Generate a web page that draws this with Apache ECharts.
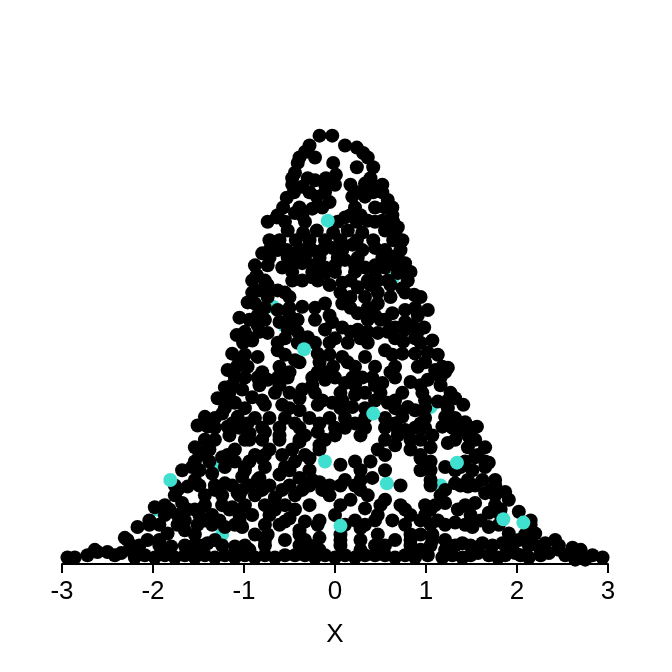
<!DOCTYPE html>
<html>
<head>
<meta charset="utf-8">
<script src="https://cdn.jsdelivr.net/npm/echarts@6/dist/echarts.min.js"></script>
<style>
  html, body { margin: 0; padding: 0; background: #fff; }
  #chart { width: 672px; height: 672px; }
</style>
</head>
<body>
<div id="chart"></div>
<script>
const xTicks = [-3, -2, -1, 0, 1, 2, 3]

// black points [x, y]
const blackPoints = [
  // top of the bell
  [-0.17, 0.393], [-0.03, 0.393], [-0.28, 0.384], [0.11, 0.384], [0.24, 0.382],
  [-0.33, 0.378], [0.31, 0.377], [-0.41, 0.368], [-0.02, 0.368], [0.24, 0.364],
  [0.42, 0.364], [-0.44, 0.359], [-0.36, 0.346], [-0.22, 0.352], [0.33, 0.349],
  [0.46, 0.346], [0.52, 0.341], [0.00, 0.348], [-0.53, 0.336], [-0.20, 0.337],
  [-0.06, 0.332], [0.19, 0.337], [0.33, 0.337], [0.58, 0.334], [0.63, 0.327],
  [-0.64, 0.318], [-0.44, 0.322], [-0.25, 0.326], [0.11, 0.318], [0.36, 0.315],
  [0.52, 0.315], [0.69, 0.309], [-0.72, 0.297], [-0.52, 0.306], [-0.35, 0.304],
  [-0.20, 0.306], [0.14, 0.306], [0.30, 0.304], [0.55, 0.306], [0.74, 0.297],
  [-0.80, 0.285], [-0.63, 0.288], [-0.44, 0.285], [-0.25, 0.288], [-0.03, 0.290],
  [0.19, 0.293], [0.44, 0.290], [0.63, 0.282], [0.77, 0.276], [-0.88, 0.274],
  [-0.58, 0.272], [-0.36, 0.276], [-0.11, 0.272], [0.11, 0.279], [0.33, 0.272],
  [0.55, 0.272],
  // middle
  [-0.86, 0.265], [-0.83, 0.251], [-0.91, 0.260], [-0.63, 0.251], [-0.47, 0.260],
  [-0.25, 0.263], [-0.11, 0.267], [0.08, 0.258], [0.25, 0.254], [0.47, 0.260],
  [0.69, 0.267], [0.74, 0.253], [0.87, 0.247], [-0.96, 0.240], [-0.88, 0.239],
  [-0.63, 0.233], [-0.36, 0.236], [-0.11, 0.239], [0.08, 0.239], [0.25, 0.230],
  [0.47, 0.239], [0.63, 0.230], [0.77, 0.233], [1.02, 0.233], [0.91, 0.228],
  [-1.05, 0.226], [-1.08, 0.210], [-0.91, 0.205], [-0.74, 0.212], [-0.52, 0.215],
  [-0.30, 0.208], [-0.11, 0.215], [0.08, 0.217], [0.25, 0.215], [0.47, 0.212],
  [0.66, 0.217], [0.85, 0.219], [0.98, 0.217], [1.07, 0.205], [0.75, 0.204],
  [-1.13, 0.193], [-0.85, 0.190], [-0.63, 0.196], [-0.44, 0.187], [-0.19, 0.193],
  [0.08, 0.190], [0.33, 0.190], [0.55, 0.196], [0.74, 0.193], [0.88, 0.193],
  [1.02, 0.194], [1.13, 0.192], [-0.96, 0.181], [-1.18, 0.178], [-0.99, 0.171],
  [-0.74, 0.169], [-0.52, 0.171], [-0.36, 0.160], [-0.11, 0.169], [0.11, 0.166],
  [0.30, 0.171], [0.52, 0.166], [0.66, 0.171], [0.83, 0.167], [1.02, 0.169],
  [1.24, 0.180], [1.10, 0.178], [-1.21, 0.162], [-1.02, 0.160], [-1.29, 0.152],
  [-1.10, 0.148], [-0.91, 0.153], [-0.77, 0.146], [-0.58, 0.146], [-0.39, 0.141],
  [-0.19, 0.146], [-0.03, 0.148], [0.19, 0.144], [0.58, 0.148], [0.80, 0.144],
  [0.74, 0.157], [1.13, 0.149], [1.32, 0.152], [1.41, 0.146], [0.88, 0.141],
  [0.74, 0.135], [1.21, 0.135], [1.43, 0.130], [1.56, 0.126], [-1.43, 0.135],
  [-1.51, 0.127], [-1.24, 0.138], [-1.07, 0.135], [-0.88, 0.134],
  // lower left
  [-1.40, 0.126], [-1.18, 0.126], [-1.54, 0.107], [-1.46, 0.102], [-1.24, 0.098],
  [-1.10, 0.105], [-1.68, 0.086], [-1.35, 0.083], [-1.21, 0.074], [-1.02, 0.080],
  [-1.62, 0.071], [-1.68, 0.056], [-1.54, 0.050], [-1.35, 0.045], [-1.13, 0.052],
  [-1.07, 0.065], [-1.21, 0.034], [-1.02, 0.034], [-1.84, 0.028], [-1.65, 0.031],
  [-1.98, 0.052], [-2.06, 0.022], [-2.24, 0.017], [-1.80, 0.016], [-1.57, 0.016],
  [-1.40, 0.019], [-1.10, 0.016], [-2.17, 0.034], [-2.31, 0.024], [-2.35, 0.010],
  [-2.20, 0.006], [-1.98, 0.006], [-1.76, 0.006], [-1.54, 0.006], [-1.32, 0.006],
  [-1.10, 0.006], [-2.61, 0.011], [-2.50, 0.011], [-2.86, 0.006], [-2.94, 0.006],
  // lower centre and right
  [-0.94, 0.120], [-0.39, 0.125], [-0.19, 0.121], [0.11, 0.125], [0.55, 0.125],
  [0.77, 0.123], [0.99, 0.125], [1.18, 0.126], [1.40, 0.123],
  [-0.88, 0.100], [-0.47, 0.105], [-0.28, 0.097], [0.06, 0.091], [0.47, 0.105],
  [0.66, 0.109], [1.05, 0.107], [1.24, 0.111], [1.46, 0.107], [1.65, 0.107],
  [1.54, 0.098],
  [-0.83, 0.079], [-0.61, 0.082], [-0.39, 0.079], [-0.17, 0.075], [0.06, 0.072],
  [0.41, 0.079], [0.55, 0.086], [0.94, 0.086], [1.21, 0.089], [1.51, 0.086],
  [1.69, 0.093], [1.62, 0.077],
  [-0.88, 0.063], [-0.66, 0.061], [-0.44, 0.063], [-0.28, 0.054], [0.17, 0.059],
  [0.36, 0.063], [0.55, 0.059], [0.99, 0.054], [1.32, 0.074], [1.46, 0.071],
  [1.65, 0.065], [1.87, 0.066],
  [-0.91, 0.045], [-0.50, 0.042], [-0.33, 0.039], [0.22, 0.040], [0.33, 0.051],
  [0.63, 0.040], [0.83, 0.045], [1.13, 0.040], [1.35, 0.050], [1.54, 0.056],
  [1.69, 0.047], [1.21, 0.056], [1.91, 0.059], [2.02, 0.048],
  [-0.88, 0.027], [-0.55, 0.022], [-0.17, 0.024], [0.28, 0.022], [0.47, 0.027],
  [0.66, 0.022], [0.94, 0.027], [1.32, 0.038], [1.51, 0.034], [1.69, 0.034],
  [1.91, 0.028], [1.21, 0.022], [1.40, 0.019], [1.62, 0.019], [1.84, 0.019],
  [2.02, 0.022], [2.20, 0.028], [2.31, 0.019],
  [-0.88, 0.006], [-0.66, 0.006], [-0.44, 0.008], [-0.22, 0.006], [0.00, 0.006],
  [0.22, 0.006], [0.44, 0.008], [0.66, 0.006], [0.88, 0.006], [1.18, 0.006],
  [1.40, 0.006], [1.57, 0.010], [1.79, 0.006], [1.98, 0.010], [2.13, 0.006],
  [2.24, 0.016], [2.35, 0.010], [2.46, 0.013], [2.61, 0.015], [2.64, 0.004],
  [2.75, 0.004], [2.94, 0.006]
]

// more black points, read row by row between the ones above
const blackPointsB = [
  [-0.39, 0.373], [-0.22, 0.373], [0.36, 0.373], [0.01, 0.357],
  [-0.47, 0.354], [-0.30, 0.354], [-0.10, 0.354], [0.39, 0.354],
  [-0.45, 0.341], [-0.28, 0.341], [-0.11, 0.341], [0.25, 0.341], [0.42, 0.341],
  [-0.57, 0.327], [-0.39, 0.327], [-0.14, 0.327], [0.22, 0.327], [0.44, 0.327], [0.55, 0.327],
  [-0.74, 0.314], [-0.55, 0.314], [-0.33, 0.314], [0.03, 0.314], [0.24, 0.314], [0.44, 0.314], [0.64, 0.314],
  [-0.61, 0.297], [-0.43, 0.297], [-0.28, 0.297], [-0.11, 0.297], [0.06, 0.297], [0.24, 0.297],
  [0.42, 0.297], [0.64, 0.297],
  [-0.72, 0.281], [-0.52, 0.281], [-0.33, 0.281], [-0.17, 0.281], [0.03, 0.281], [0.25, 0.281],
  [0.52, 0.281], [0.69, 0.281],
  [-0.47, 0.268], [-0.25, 0.268], [0.00, 0.268], [0.22, 0.268], [0.44, 0.268], [0.83, 0.268],
  [-0.74, 0.256], [-0.06, 0.256], [0.39, 0.256], [0.61, 0.256],
  [-0.74, 0.245], [-0.50, 0.245], [0.17, 0.245], [0.33, 0.245], [0.61, 0.245], [0.94, 0.245],
  [-0.94, 0.224], [-0.77, 0.224], [-0.41, 0.224], [-0.22, 0.224], [0.36, 0.224], [0.55, 0.224],
  [-1.01, 0.203], [-0.63, 0.203], [-0.41, 0.203], [-0.22, 0.203], [-0.06, 0.203], [0.14, 0.203],
  [0.36, 0.203], [0.94, 0.203],
  [-1.08, 0.181], [-0.61, 0.181], [-0.02, 0.181], [0.22, 0.181], [0.44, 0.181], [0.66, 0.181],
  [0.91, 0.181], [1.18, 0.181],
  [-1.16, 0.157], [-0.66, 0.157], [-0.50, 0.157], [-0.22, 0.157], [0.06, 0.157], [0.33, 0.157],
  [0.50, 0.157], [0.96, 0.157], [1.27, 0.157],
  [-1.32, 0.134], [-0.72, 0.134], [-0.55, 0.134], [-0.28, 0.134], [-0.06, 0.134], [0.11, 0.134],
  [0.33, 0.134], [0.55, 0.134], [0.99, 0.134], [1.32, 0.134],
  [-1.43, 0.114], [-1.32, 0.114], [-0.99, 0.114], [-0.80, 0.114], [-0.61, 0.114], [-0.39, 0.114],
  [-0.11, 0.114], [0.55, 0.114], [0.83, 0.114], [0.94, 0.114], [1.32, 0.114], [1.54, 0.114],
  [-1.54, 0.094], [-1.38, 0.094], [-1.10, 0.094], [-0.94, 0.094], [-0.44, 0.094], [0.22, 0.094],
  [0.39, 0.094], [1.05, 0.094], [1.43, 0.094], [1.65, 0.094],
  [-1.76, 0.072], [-1.49, 0.072], [-1.32, 0.072], [-1.13, 0.072], [-0.94, 0.072], [-0.72, 0.072],
  [-0.50, 0.072], [-0.28, 0.072], [-0.06, 0.072], [0.22, 0.072], [0.72, 0.072], [1.05, 0.072],
  [1.38, 0.072], [1.54, 0.072], [1.76, 0.072],
  [-1.87, 0.054], [-1.43, 0.054], [-1.24, 0.054], [-0.99, 0.054], [-0.77, 0.054], [-0.55, 0.054],
  [0.06, 0.054], [0.50, 0.054], [0.72, 0.054], [1.10, 0.054], [1.43, 0.054], [1.76, 0.054],
  [-2.04, 0.036], [-1.93, 0.036], [-1.73, 0.036], [-1.51, 0.036], [-1.35, 0.036], [-1.10, 0.036],
  [-0.77, 0.036], [-0.61, 0.036], [-0.19, 0.036], [0.11, 0.036], [0.33, 0.036], [0.77, 0.036],
  [1.05, 0.036], [1.21, 0.036], [1.43, 0.036], [1.80, 0.036], [2.15, 0.036],
  [-2.15, 0.017], [-1.93, 0.017], [-1.65, 0.017], [-1.49, 0.017], [-1.24, 0.017], [-0.99, 0.017],
  [-0.77, 0.017], [-0.39, 0.017], [-0.28, 0.017], [0.06, 0.017], [0.44, 0.017], [0.55, 0.017],
  [0.83, 0.017], [1.05, 0.017], [1.32, 0.017], [1.49, 0.017], [1.73, 0.017], [1.95, 0.017],
  [2.13, 0.017], [2.46, 0.017],
  [-2.72, 0.008], [-2.42, 0.008], [-2.09, 0.008], [-1.87, 0.008], [-1.65, 0.008], [-1.43, 0.008],
  [-1.21, 0.008], [-0.99, 0.008], [-0.77, 0.008], [-0.55, 0.008], [-0.33, 0.008], [-0.11, 0.008],
  [0.11, 0.008], [0.33, 0.008], [0.55, 0.008], [0.77, 0.008], [1.02, 0.008], [1.29, 0.008],
  [1.49, 0.008], [1.69, 0.008], [1.87, 0.008], [2.04, 0.008], [2.26, 0.008], [2.53, 0.008],
  [2.83, 0.008]
]

// third pass of black points in the remaining gaps
const blackPointsC = [
  [-0.47, 0.348], [-0.11, 0.348], [0.17, 0.348], [0.52, 0.348],
  [-0.63, 0.320], [-0.36, 0.320], [0.17, 0.320], [0.28, 0.320], [0.63, 0.320],
  [-0.02, 0.304], [0.66, 0.304],
  [-0.72, 0.288], [-0.53, 0.288], [-0.35, 0.288], [-0.14, 0.288], [0.08, 0.288], [0.30, 0.288],
  [0.55, 0.288], [0.72, 0.288],
  [-0.74, 0.274], [-0.47, 0.274], [-0.23, 0.274], [0.00, 0.274], [0.22, 0.274], [0.44, 0.274],
  [0.66, 0.274],
  [-0.77, 0.260], [-0.36, 0.260], [-0.19, 0.260], [0.17, 0.260], [0.36, 0.260], [0.58, 0.260],
  [0.80, 0.260],
  [-0.91, 0.249], [-0.55, 0.249], [0.06, 0.249], [0.47, 0.249], [0.77, 0.249],
  [-0.77, 0.235], [-0.50, 0.235], [-0.22, 0.235], [0.17, 0.235], [0.36, 0.235], [0.88, 0.235],
  [-0.61, 0.222], [-0.03, 0.222], [0.77, 0.222],
  [-0.99, 0.213], [-0.83, 0.213], [-0.41, 0.213], [0.17, 0.213], [0.36, 0.213], [0.58, 0.213],
  [0.91, 0.213],
  [-0.99, 0.192], [-0.55, 0.192], [-0.06, 0.192], [0.63, 0.192],
  [-1.10, 0.171], [-0.85, 0.171], [-0.63, 0.171], [-0.25, 0.171], [0.00, 0.171], [0.19, 0.171],
  [0.41, 0.171], [1.16, 0.171],
  [-1.21, 0.150], [-0.80, 0.150], [-0.14, 0.150], [0.08, 0.150], [0.44, 0.150], [0.66, 0.150],
  [0.99, 0.150], [1.24, 0.150],
  [-1.32, 0.125], [-1.05, 0.125], [-0.80, 0.125], [-0.61, 0.125], [0.00, 0.125], [0.33, 0.125],
  [0.88, 0.125], [1.29, 0.125], [1.49, 0.125],
  [-1.38, 0.105], [-0.72, 0.105], [-0.17, 0.105], [0.83, 0.105],
  [-1.49, 0.086], [-0.99, 0.086], [-0.50, 0.086], [-0.28, 0.086], [0.28, 0.086], [1.05, 0.086],
  [1.32, 0.086],
  [-1.76, 0.063], [-1.43, 0.063], [-1.24, 0.063], [-1.05, 0.063], [-0.06, 0.063], [1.16, 0.063],
  [1.76, 0.063],
  [-1.87, 0.045], [-1.73, 0.045], [-1.49, 0.045], [-1.05, 0.045], [-0.72, 0.045], [0.00, 0.045],
  [0.47, 0.045], [0.99, 0.045], [1.49, 0.045], [1.82, 0.045],
  [-1.54, 0.027], [-0.74, 0.027], [-0.39, 0.027], [0.06, 0.027], [1.07, 0.027], [2.09, 0.027],
  [-2.64, 0.013], [-2.26, 0.013], [-0.94, 0.013], [-0.17, 0.013], [0.28, 0.013], [0.94, 0.013],
  [1.21, 0.013], [2.26, 0.013], [2.70, 0.013]
]

// fourth pass, middle and lower body
const blackPointsD = [
  [-0.85, 0.228], [-0.50, 0.228], [-0.06, 0.228], [0.44, 0.228],
  [-0.94, 0.207], [-0.55, 0.207], [0.00, 0.207], [0.28, 0.207], [0.66, 0.207], [0.88, 0.207],
  [-1.05, 0.185], [-0.39, 0.185], [-0.17, 0.185], [0.14, 0.185], [0.99, 0.185],
  [-0.80, 0.176], [-0.50, 0.176], [-0.19, 0.176], [0.61, 0.176], [1.21, 0.176],
  [-1.13, 0.164], [-0.83, 0.164], [-0.61, 0.164], [-0.25, 0.164], [0.22, 0.164], [0.44, 0.164],
  [0.94, 0.164], [1.16, 0.164],
  [-1.21, 0.143], [-0.99, 0.143], [-0.50, 0.143], [0.06, 0.143], [0.33, 0.143], [0.66, 0.143],
  [0.99, 0.143], [1.24, 0.143],
  [-1.38, 0.129], [-1.13, 0.129], [-0.96, 0.129], [-0.44, 0.129], [-0.17, 0.129], [0.22, 0.129],
  [0.66, 0.129], [0.94, 0.129], [1.32, 0.129],
  [-1.16, 0.118], [-0.61, 0.118], [-0.33, 0.118], [0.00, 0.118], [0.28, 0.118], [0.69, 0.118],
  [1.07, 0.118], [1.46, 0.118],
  [-1.49, 0.100], [-1.18, 0.100], [-0.77, 0.100], [-0.58, 0.100], [-0.33, 0.100], [0.55, 0.100],
  [0.94, 0.100], [1.57, 0.100],
  [-1.57, 0.089], [-1.21, 0.089], [-0.99, 0.089], [-0.77, 0.089], [-0.55, 0.089], [0.99, 0.089],
  [1.38, 0.089], [1.65, 0.089],
  [-1.54, 0.077], [-0.85, 0.077], [-0.25, 0.077], [0.28, 0.077], [1.05, 0.077], [1.46, 0.077],
  [1.76, 0.077],
  [-1.73, 0.068], [-1.32, 0.068], [-1.02, 0.068], [-0.80, 0.068], [-0.58, 0.068], [-0.36, 0.068],
  [-0.14, 0.068], [0.28, 0.068], [1.21, 0.068], [1.71, 0.068],
  [-1.82, 0.050], [-1.62, 0.050], [-1.16, 0.050], [-0.66, 0.050], [-0.44, 0.050], [0.77, 0.050],
  [1.05, 0.050], [1.82, 0.050],
  [-2.04, 0.040], [-1.65, 0.040], [-1.43, 0.040], [-1.27, 0.040], [-1.05, 0.040], [-0.17, 0.040],
  [0.44, 0.040], [0.94, 0.040], [1.60, 0.040], [2.15, 0.040],
  [-2.28, 0.022], [-1.93, 0.022], [-1.32, 0.022], [-0.77, 0.022], [-0.33, 0.022], [0.06, 0.022],
  [0.83, 0.022], [1.07, 0.022], [2.15, 0.022], [2.42, 0.022]
]

// last few black points in holes that were still open
const blackPointsE = [
  [-0.85, 0.219], [-0.47, 0.219], [-0.11, 0.176], [-0.77, 0.121], [-0.39, 0.112],
  [-0.17, 0.109], [-0.80, 0.097], [-0.55, 0.039], [0.94, 0.097], [1.49, 0.114],
  [0.22, 0.155], [-0.39, 0.152], [-0.94, 0.114], [0.69, 0.123], [0.11, 0.077],
  [-0.39, 0.031], [0.28, 0.033], [0.83, 0.027], [-1.05, 0.187], [0.50, 0.224],
  [0.77, 0.215]
]

// teal points that sit under black ones
const tealUnder = [
  [-0.56, 0.219], [-0.68, 0.236], [0.63, 0.262], [1.05, 0.144], [-1.27, 0.091],
  [-1.95, 0.050], [-1.24, 0.027], [0.57, 0.074], [1.16, 0.072]
]

// teal points drawn on top
const tealOver = [
  [-0.08, 0.315], [-0.34, 0.197], [0.42, 0.138], [-0.11, 0.094], [0.06, 0.035],
  [1.34, 0.093], [1.85, 0.041], [2.07, 0.038], [-1.81, 0.077]
]

const chart = echarts.init(document.getElementById('chart'))

const dot = (name, data, color) => ({
  name,
  type: 'scatter',
  data,
  symbol: 'circle',
  symbolSize: 14,
  itemStyle: { color, opacity: 1 },
  emphasis: { disabled: true }
})

chart.setOption({
  animation: false,
  grid: { left: 62, right: 64, top: 128, bottom: 108 },
  xAxis: {
    type: 'value',
    min: -3,
    max: 3,
    interval: 1,
    name: 'X',
    nameLocation: 'middle',
    nameGap: 58,
    nameTextStyle: { color: '#000', fontSize: 26, fontFamily: 'Liberation Sans' },
    axisLine: { show: true, onZero: false, lineStyle: { color: '#000', width: 2 } },
    axisTick: { show: true, length: 9, lineStyle: { color: '#000', width: 2 } },
    axisLabel: {
      color: '#000',
      fontSize: 26,
      fontFamily: 'Liberation Sans',
      margin: 15,
      formatter: v => (xTicks.includes(v) ? String(v) : '')
    },
    splitLine: { show: false }
  },
  yAxis: {
    type: 'value',
    min: 0,
    max: 0.4,
    show: false
  },
  series: [
    dot('under', tealUnder, '#40E0D0'),
    dot('black', blackPoints, '#000000'),
    dot('blackB', blackPointsB, '#000000'),
    dot('blackC', blackPointsC, '#000000'),
    dot('blackD', blackPointsD, '#000000'),
    dot('blackE', blackPointsE, '#000000'),
    dot('over', tealOver, '#40E0D0')
  ]
})
</script>
</body>
</html>
